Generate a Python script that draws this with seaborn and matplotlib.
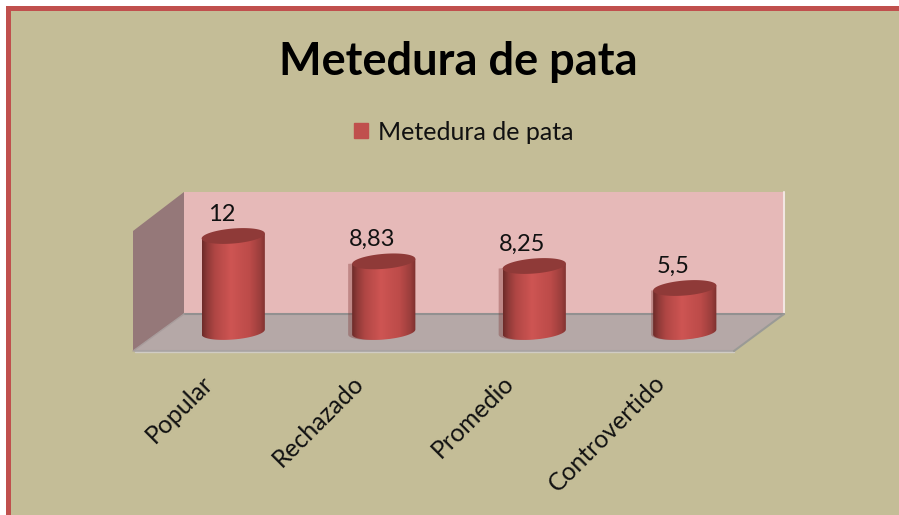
import numpy as np
import matplotlib
matplotlib.use('Agg')
import matplotlib.pyplot as plt
import seaborn as sns
from matplotlib.colors import LinearSegmentedColormap
from matplotlib.patches import Polygon, Rectangle
from matplotlib.transforms import ScaledTranslation

titulo = 'Metedura de pata'
categorias = ['Popular', 'Rechazado', 'Promedio', 'Controvertido']
valores = [12, 8.83, 8.25, 5.5]
etiquetas = ['12', '8,83', '8,25', '5,5']
sombra_px = [0, 4, 4, 2]

sns.set_theme(style='white')
plt.rcParams['font.family'] = ['Lato', 'DejaVu Sans']

W, H = 899, 515
fig = plt.figure(figsize=(W / 100, H / 100), dpi=100, facecolor='white')

## fondo, paredes y suelo in pixel coords
bg = fig.add_axes([0, 0, 1, 1])
bg.set_xlim(0, W)
bg.set_ylim(H, 0)
bg.axis('off')
bg.add_patch(Rectangle((6, 6), W, H, fc='#C0504D', ec='none'))
bg.add_patch(Rectangle((11, 11), W, H, fc='#C4BD97', ec='none'))
bg.add_patch(Rectangle((184, 192), 600, 122, fc='#E6B9B8', ec='none'))
bg.plot([784, 784], [192, 314], color='#F2E6E2', lw=1.5)
bg.add_patch(Polygon([(133, 231), (184, 192), (184, 314), (133, 351)], fc='#957879', ec='none'))
bg.add_patch(Polygon([(133, 351), (184, 314), (784, 314), (734, 351)], fc='#B5A8A7', ec='none'))
bg.plot([184, 784], [314, 314], color='#929090', lw=1.5)
bg.plot([135, 734], [350.5, 350.5], color='#A9A3A3', lw=1.5)
bg.plot([135, 734], [352, 352], color='#D0CCC4', lw=1)
bg.plot([734, 784], [351, 314], color='#9A9A96', lw=1.5)
bg.plot([184, 133], [314, 351], color='#A89C9C', lw=1)

## barras: y=0 at 332px, 7.92 px per unit
px_u = 96 / 12
y_bottom = 332 + 2 * px_u
ax_h = 16 * px_u
ax = fig.add_axes([158 / W, (H - y_bottom) / H, 602 / W, ax_h / H])
ax.patch.set_alpha(0)
sns.barplot(x=categorias, y=valores, color='#C0504D', saturation=1, width=0.42,
            ax=ax, label=titulo)

shade = LinearSegmentedColormap.from_list('cyl', [
    (0.0, '#6E2B29'), (0.08, '#8E3A38'), (0.2, '#B04644'), (0.45, '#CE5553'),
    (0.75, '#BC4B49'), (0.92, '#9A3E3C'), (1.0, '#7C302E')])
grad = np.linspace(0, 1, 128).reshape(1, -1)

t = np.linspace(0, 2 * np.pi, 120)
a_y = 7.5 / px_u
shear = 2.5 / px_u
px_x = 602 / 4

def ring(xc, half, yc):
    xs = xc + half * np.cos(t)
    ys = yc + a_y * np.sin(t) + shear * np.cos(t)
    return np.column_stack([xs, ys])

for bar, txt, gh in zip(ax.patches, etiquetas, sombra_px):
    x0, w, h = bar.get_x(), bar.get_width(), bar.get_height()
    xc = x0 + w / 2
    bar.set_visible(False)
    low = ring(xc, w / 2, 0)
    lower = low[(t >= np.pi)]
    body = np.vstack([lower, [[x0 + w, h + shear], [x0, h - shear]]])
    if gh:
        # the faded copy that sits behind some of the cylinders
        ax.add_patch(Polygon(body - [gh / px_x, 0], fc='#7A2F2D', ec='none', alpha=0.35, zorder=2))
    clip = Polygon(body, transform=ax.transData, fc='none', ec='none')
    ax.add_patch(clip)
    im = ax.imshow(grad, cmap=shade, extent=(x0, x0 + w, -2, h + 1), aspect='auto', zorder=3)
    im.set_clip_path(clip)
    ax.add_patch(Polygon(ring(xc, w / 2, h), fc='#8F3A38', ec='none', zorder=4))
    ax.annotate(txt, xy=(xc, h), xytext=(-8.5, 8), textcoords='offset points',
                ha='center', va='bottom', fontsize=17, color='#111111', zorder=5)

ax.set_xlim(-0.5, 3.5)
ax.set_ylim(-2, 14)
ax.set_yticks([])
ax.set_xlabel('')
ax.set_ylabel('')
sns.despine(ax=ax, left=True, bottom=True)
ax.tick_params(axis='x', length=0, pad=16.5, labelsize=17.8, labelcolor='#111111')
shift = ScaledTranslation(-32 / 100, 0, fig.dpi_scale_trans)
for lab in ax.get_xticklabels():
    lab.set_rotation(45)
    lab.set_ha('right')
    lab.set_va('top')
    lab.set_rotation_mode('anchor')
    lab.set_transform(lab.get_transform() + shift)

fig.text(458.5 / W, 1 - 62 / H, titulo, ha='center', va='center',
         fontsize=32.5, fontweight='bold', color='black')

bars = ax.containers[0]
leg = ax.legend([bars], [titulo], loc='center', bbox_to_anchor=(463.5 / W, 1 - 132 / H),
                bbox_transform=fig.transFigure, frameon=False, fontsize=18,
                handlelength=0.55, handleheight=0.55, handletextpad=0.4,
                labelcolor='#111111')
for hd in leg.legend_handles:
    hd.set_visible(True)
    hd.set_color('#C0504D')

fig.savefig('out.png', dpi=100, facecolor=fig.get_facecolor())
